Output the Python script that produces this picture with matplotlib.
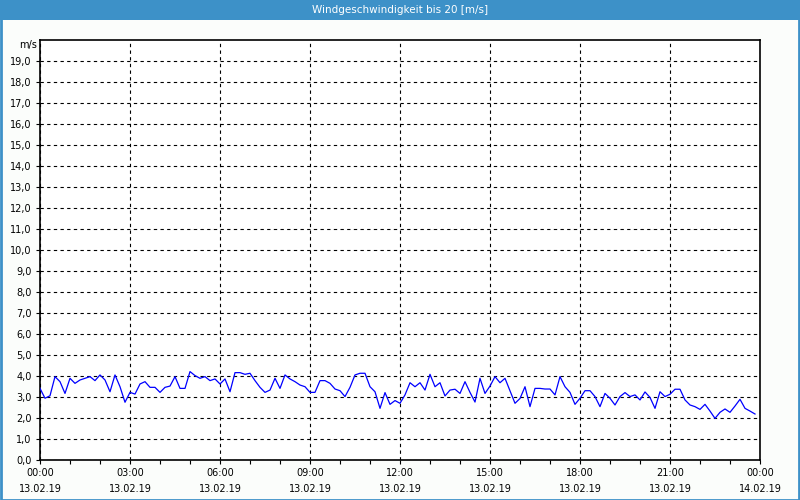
import matplotlib
matplotlib.use("Agg")
import matplotlib.pyplot as plt
from matplotlib.patches import Rectangle
import numpy as np

title = "Windgeschwindigkeit bis 20 [m/s]"
unit = "m/s"
tick_times = ["00:00", "03:00", "06:00", "09:00", "12:00", "15:00", "18:00", "21:00", "00:00"]
tick_dates = ["13.02.19"] * 8 + ["14.02.19"]
# 10-minute values, 00:00 .. 23:50
speed = [
    3.41, 2.94, 3.06, 3.97, 3.73, 3.17, 3.89, 3.65, 3.81, 3.89, 3.97, 3.78,
    4.05, 3.81, 3.25, 4.05, 3.49, 2.75, 3.22, 3.14, 3.62, 3.73, 3.46, 3.46,
    3.22, 3.46, 3.52, 3.97, 3.41, 3.41, 4.21, 4.02, 3.89, 3.97, 3.78, 3.86,
    3.62, 3.86, 3.25, 4.16, 4.16, 4.08, 4.13, 3.78, 3.46, 3.22, 3.33, 3.89,
    3.41, 4.05, 3.86, 3.73, 3.57, 3.49, 3.22, 3.22, 3.78, 3.78, 3.65, 3.38,
    3.30, 3.02, 3.46, 4.05, 4.13, 4.13, 3.49, 3.25, 2.46, 3.21, 2.65, 2.83,
    2.70, 3.10, 3.68, 3.49, 3.68, 3.33, 4.08, 3.49, 3.68, 3.05, 3.33, 3.37,
    3.17, 3.73, 3.22, 2.76, 3.89, 3.17, 3.52, 3.97, 3.68, 3.89, 3.30, 2.70,
    2.93, 3.49, 2.54, 3.41, 3.41, 3.38, 3.38, 3.10, 3.97, 3.49, 3.22, 2.65,
    2.94, 3.30, 3.30, 3.02, 2.54, 3.17, 2.94, 2.62, 3.02, 3.21, 3.02, 3.10,
    2.86, 3.24, 2.98, 2.46, 3.25, 3.02, 3.13, 3.37, 3.37, 2.86, 2.62, 2.54,
    2.41, 2.65, 2.33, 1.98, 2.27, 2.43, 2.27, 2.57, 2.89, 2.46, 2.33, 2.19,
]
hours = np.arange(len(speed)) / 6.0

W, H = 800, 500
fig = plt.figure(figsize=(8, 5), dpi=100, facecolor="#fbfdfb")
blue = "#3d91c8"
# title bar and border
fig.patches.append(Rectangle((0, 1 - 20 / H), 1, 20 / H, transform=fig.transFigure,
                             facecolor=blue, edgecolor="none", zorder=0))
fig.patches.append(Rectangle((0.5 / W, 0.5 / H), 1 - 2 / W, 1 - 1 / H, transform=fig.transFigure,
                             facecolor="none", edgecolor=blue, linewidth=2, zorder=5))
fig.text(0.5, 1 - 10 / H, title, ha="center", va="center", color="white",
         fontsize=7.5, family="DejaVu Sans")

ax = fig.add_axes([40 / W, 40 / H, 720 / W, 420 / H])
ax.set_facecolor("white")
ax.plot(hours, speed, color="#0000ff", linewidth=0.9, zorder=3)
ax.set_xlim(0, 24)
ax.set_ylim(0, 20)

ax.set_yticks(np.arange(0, 20, 1))
ax.set_yticklabels([f"{v:.1f}".replace(".", ",") for v in np.arange(0, 20, 1)], fontsize=7)
ax.set_xticks(np.arange(0, 25, 3))
ax.set_xticklabels([f"{t}\n{d}" for t, d in zip(tick_times, tick_dates)], fontsize=7,
                   linespacing=1.75)
ax.set_xticks(np.arange(0, 25, 1), minor=True)
ax.tick_params(axis="both", which="major", length=3, width=0.8, color="black", pad=3)
ax.tick_params(axis="x", which="minor", length=3, width=0.8)
ax.grid(True, which="major", color="black", linestyle=(0, (3, 3)), linewidth=0.8)
for s in ax.spines.values():
    s.set_linewidth(1.2)
    s.set_color("black")
ax.text(-0.004, 0.988, unit, transform=ax.transAxes, ha="right", va="center", fontsize=7)

fig.savefig("out.png", dpi=100, facecolor=fig.get_facecolor())
